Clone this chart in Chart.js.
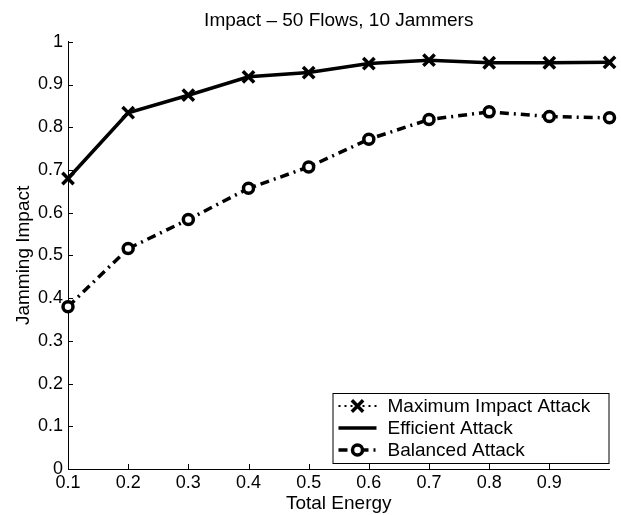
<!DOCTYPE html>
<html>
<head>
<meta charset="utf-8">
<script src="https://cdn.jsdelivr.net/npm/chart.js@4.4.0/dist/chart.umd.min.js"></script>
<style>
  html, body { margin: 0; padding: 0; background: #fff; }
  #wrap { width: 621px; height: 515px; }
</style>
</head>
<body>
<div id="wrap"><canvas id="impactChart" width="621" height="515"></canvas></div>
<script>
// values
const energy = [0.1, 0.2, 0.3, 0.4, 0.5, 0.6, 0.7, 0.8, 0.9, 1.0];
const maxImpact = [0.680, 0.834, 0.875, 0.918, 0.928, 0.949, 0.957, 0.951, 0.951, 0.952];
const efficient = [0.680, 0.834, 0.875, 0.918, 0.928, 0.949, 0.957, 0.951, 0.951, 0.952];
const balanced = [0.380, 0.516, 0.584, 0.657, 0.707, 0.772, 0.818, 0.836, 0.825, 0.822];
const seriesNames = ['Maximum Impact Attack', 'Efficient Attack', 'Balanced Attack'];
const xTicks = [0.1, 0.2, 0.3, 0.4, 0.5, 0.6, 0.7, 0.8, 0.9, 1.0];
const yTicks = [0, 0.1, 0.2, 0.3, 0.4, 0.5, 0.6, 0.7, 0.8, 0.9, 1.0];

const FONT = "'Liberation Sans', Arial, Helvetica, sans-serif";
const ctx = document.getElementById('impactChart').getContext('2d');

const toPoints = (vals) => vals.map((v, i) => ({ x: energy[i], y: v }));

// matlab style: ticks pointing into the plot
const innerTicks = {
    id: 'innerTicks',
    afterDraw(chart) {
        const { ctx, chartArea, scales } = chart;
        ctx.save();
        ctx.strokeStyle = '#000';
        ctx.lineWidth = 1;
        ctx.beginPath();
        xTicks.slice(0, 9).forEach((t) => {
            const px = Math.round(scales.x.getPixelForValue(t)) + 0.5;
            ctx.moveTo(px, chartArea.bottom);
            ctx.lineTo(px, chartArea.bottom - 5);
        });
        yTicks.forEach((t) => {
            const py = Math.round(scales.y.getPixelForValue(t)) + 0.5;
            ctx.moveTo(chartArea.left, py);
            ctx.lineTo(chartArea.left + 5, py);
        });
        ctx.stroke();
        ctx.restore();
    }
};

// legend box in the lower right corner
const boxLegend = {
    id: 'boxLegend',
    afterDraw(chart) {
        const { ctx, chartArea } = chart;
        const w = 276, h = 70;
        const x0 = chartArea.right - w - 1;
        const y0 = chartArea.bottom - h - 6;
        ctx.save();
        ctx.fillStyle = '#fff';
        ctx.fillRect(x0, y0, w, h);
        ctx.strokeStyle = '#000';
        ctx.lineWidth = 1;
        ctx.strokeRect(x0 + 0.5, y0 + 0.5, w, h);

        const rows = [y0 + 13, y0 + 35, y0 + 57];
        const lx1 = x0 + 6, lx2 = x0 + 44, mid = (lx1 + lx2) / 2;
        chart.data.datasets.forEach((ds, i) => {
            const yy = rows[i];
            ctx.strokeStyle = '#000';
            ctx.lineWidth = ds.borderWidth;
            ctx.setLineDash(ds.borderDash || []);
            ctx.beginPath();
            ctx.moveTo(lx1, yy);
            ctx.lineTo(lx2, yy);
            ctx.stroke();
            ctx.setLineDash([]);
            if (ds.pointRadius > 0) {
                ctx.fillStyle = ds.pointBackgroundColor;
                ctx.strokeStyle = '#000';
                ctx.lineWidth = ds.pointBorderWidth;
                Chart.helpers.drawPoint(ctx, {
                    pointStyle: ds.pointStyle,
                    radius: ds.pointRadius,
                    borderWidth: ds.pointBorderWidth
                }, mid, yy);
            }
            ctx.fillStyle = '#000';
            ctx.font = '19px ' + FONT;
            ctx.textBaseline = 'middle';
            ctx.textAlign = 'left';
            ctx.fillText(ds.label, x0 + 55, yy + 1);
        });
        ctx.restore();
    }
};

const impactChart = new Chart(ctx, {
    type: 'line',
    data: {
        datasets: [
            {
                label: seriesNames[0],
                data: toPoints(maxImpact),
                borderColor: '#000',
                borderWidth: 2,
                borderDash: [2, 4],
                pointStyle: 'crossRot',
                pointRadius: 8,
                pointBorderWidth: 3.5,
                pointBorderColor: '#000',
                pointBackgroundColor: '#000',
                clip: false,
                fill: false
            },
            {
                label: seriesNames[1],
                data: toPoints(efficient),
                borderColor: '#000',
                borderWidth: 3.5,
                pointRadius: 0,
                clip: false,
                fill: false
            },
            {
                label: seriesNames[2],
                data: toPoints(balanced),
                borderColor: '#000',
                borderWidth: 3.5,
                borderDash: [9, 5, 2, 5],
                pointStyle: 'circle',
                pointRadius: 5,
                pointBorderWidth: 3.5,
                pointBorderColor: '#000',
                pointBackgroundColor: '#fff',
                clip: false,
                fill: false
            }
        ]
    },
    options: {
        responsive: false,
        animation: false,
        layout: { padding: { top: 0, right: 11, left: 0, bottom: 0 } },
        plugins: {
            legend: { display: false },
            tooltip: { enabled: false },
            title: {
                display: true,
                text: 'Impact \u2013 50 Flows, 10 Jammers',
                color: '#000',
                fullSize: false,
                font: { family: FONT, size: 19, weight: 'normal' },
                padding: { top: 9, bottom: 10 }
            }
        },
        scales: {
            x: {
                type: 'linear',
                min: 0.1,
                max: 1.0,
                afterBuildTicks: (scale) => { scale.ticks = xTicks.map((v) => ({ value: v })); },
                afterFit: (scale) => { scale.height = 46; },
                grid: { display: false, drawTicks: false },
                border: { display: true, color: '#000', width: 1 },
                ticks: {
                    color: '#000',
                    padding: 3,
                    maxRotation: 0,
                    font: { family: FONT, size: 18 },
                    callback: (v) => (v > 0.95 ? '' : v.toFixed(1))
                },
                title: {
                    display: true,
                    text: 'Total Energy',
                    color: '#000',
                    font: { family: FONT, size: 19 },
                    padding: { top: 0, bottom: 0 }
                }
            },
            y: {
                min: 0,
                max: 1,
                afterBuildTicks: (scale) => { scale.ticks = yTicks.map((v) => ({ value: v })); },
                afterFit: (scale) => { scale.width = 68; },
                grid: { display: false, drawTicks: false },
                border: { display: true, color: '#000', width: 1 },
                ticks: {
                    color: '#000',
                    padding: 5,
                    font: { family: FONT, size: 18 },
                    callback: (v) => (v === 0 ? '0' : v === 1 ? '1' : v.toFixed(1))
                },
                title: {
                    display: true,
                    text: 'Jamming Impact',
                    color: '#000',
                    font: { family: FONT, size: 19 },
                    padding: { top: 12, bottom: 0 }
                }
            }
        }
    },
    plugins: [innerTicks, boxLegend]
});
</script>
</body>
</html>
